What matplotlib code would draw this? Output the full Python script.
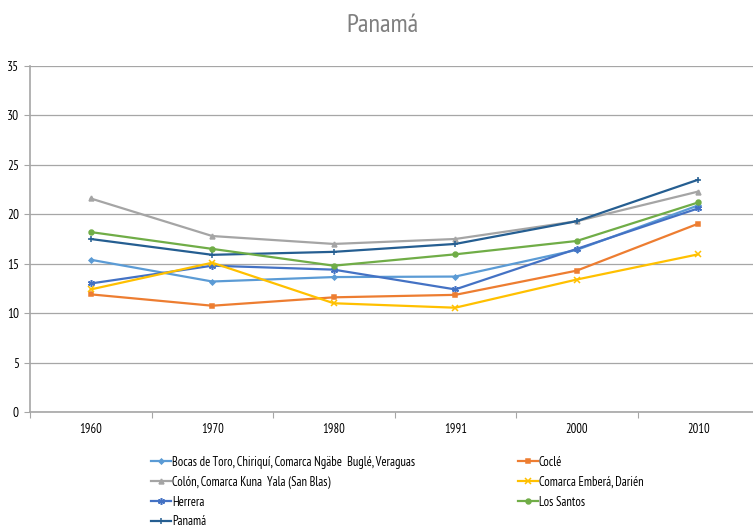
import matplotlib
matplotlib.use("Agg")
import matplotlib.pyplot as plt
import numpy as np

plt.rcParams['font.family'] = ['PT Sans Narrow', 'DejaVu Sans']

years = ["1960", "1970", "1980", "1991", "2000", "2010"]

bocas = [15.4, 13.2, 13.65, 13.7, 16.4, 20.9]
cocle = [11.9, 10.75, 11.6, 11.85, 14.3, 19.05]
colon = [21.6, 17.8, 17.0, 17.5, 19.3, 22.3]
embera = [12.4, 15.1, 11.0, 10.55, 13.4, 15.95]
herrera = [13.0, 14.8, 14.4, 12.4, 16.5, 20.6]
los_santos = [18.2, 16.5, 14.8, 15.95, 17.3, 21.2]
panama = [17.5, 15.9, 16.2, 17.0, 19.3, 23.5]

series = [
    ("Bocas de Toro, Chiriquí, Comarca Ngäbe  Buglé, Veraguas", bocas, "#5B9BD5", "D", 2.5),
    ("Colón, Comarca Kuna  Yala (San Blas)", colon, "#A5A5A5", "^", 3.5),
    ("Herrera", herrera, "#4472C4", (6, 2, 0), 5),
    ("Panamá", panama, "#255E91", "+", 5),
    ("Coclé", cocle, "#ED7D31", "s", 3.5),
    ("Comarca Emberá, Darién", embera, "#FFC000", "x", 4),
    ("Los Santos", los_santos, "#70AD47", "o", 3.5),
]

fig = plt.figure(figsize=(7.53, 5.28), dpi=100)
ax = fig.add_axes([30 / 753, 116 / 528, 729 / 753, 346 / 528])

x = np.arange(len(years))
for label, vals, color, marker, ms in series:
    ax.plot(x, vals, color=color, marker=marker, markersize=ms, linewidth=1.6,
            markeredgewidth=1.1, label=label)

ax.set_xlim(-0.5, len(years) - 0.5)
ax.set_ylim(0, 35)
ax.set_yticks(range(0, 36, 5))
ax.set_xticks(x)
ax.set_xticklabels(years)
ax.set_xticks(np.arange(-0.5, len(years), 1), minor=True)
ax.tick_params(axis='x', which='major', length=0, pad=8, labelsize=9)
ax.tick_params(axis='x', which='minor', length=4, color="#A6A6A6", width=0.8)
ax.tick_params(axis='y', length=4, color="#A6A6A6", width=0.8, labelsize=9.5, pad=4)
ax.yaxis.grid(True, color="#A6A6A6", linewidth=0.9)
ax.set_axisbelow(True)
for s in ["top", "right"]:
    ax.spines[s].set_visible(False)
for s in ["left", "bottom"]:
    ax.spines[s].set_color("#A6A6A6")
    ax.spines[s].set_linewidth(1.2)

fig.text(383 / 753, 1 - 25 / 528, "Panamá", ha="center", va="center",
         fontsize=19, color="#7F7F7F")

fig.legend(loc="upper left", bbox_to_anchor=(142 / 753, 1 - 447 / 528), ncol=2,
           frameon=False, fontsize=9, handlelength=1.6, handletextpad=0.1,
           columnspacing=8.2, labelspacing=0.55, borderpad=0.2)

fig.savefig("out.png", dpi=100)
